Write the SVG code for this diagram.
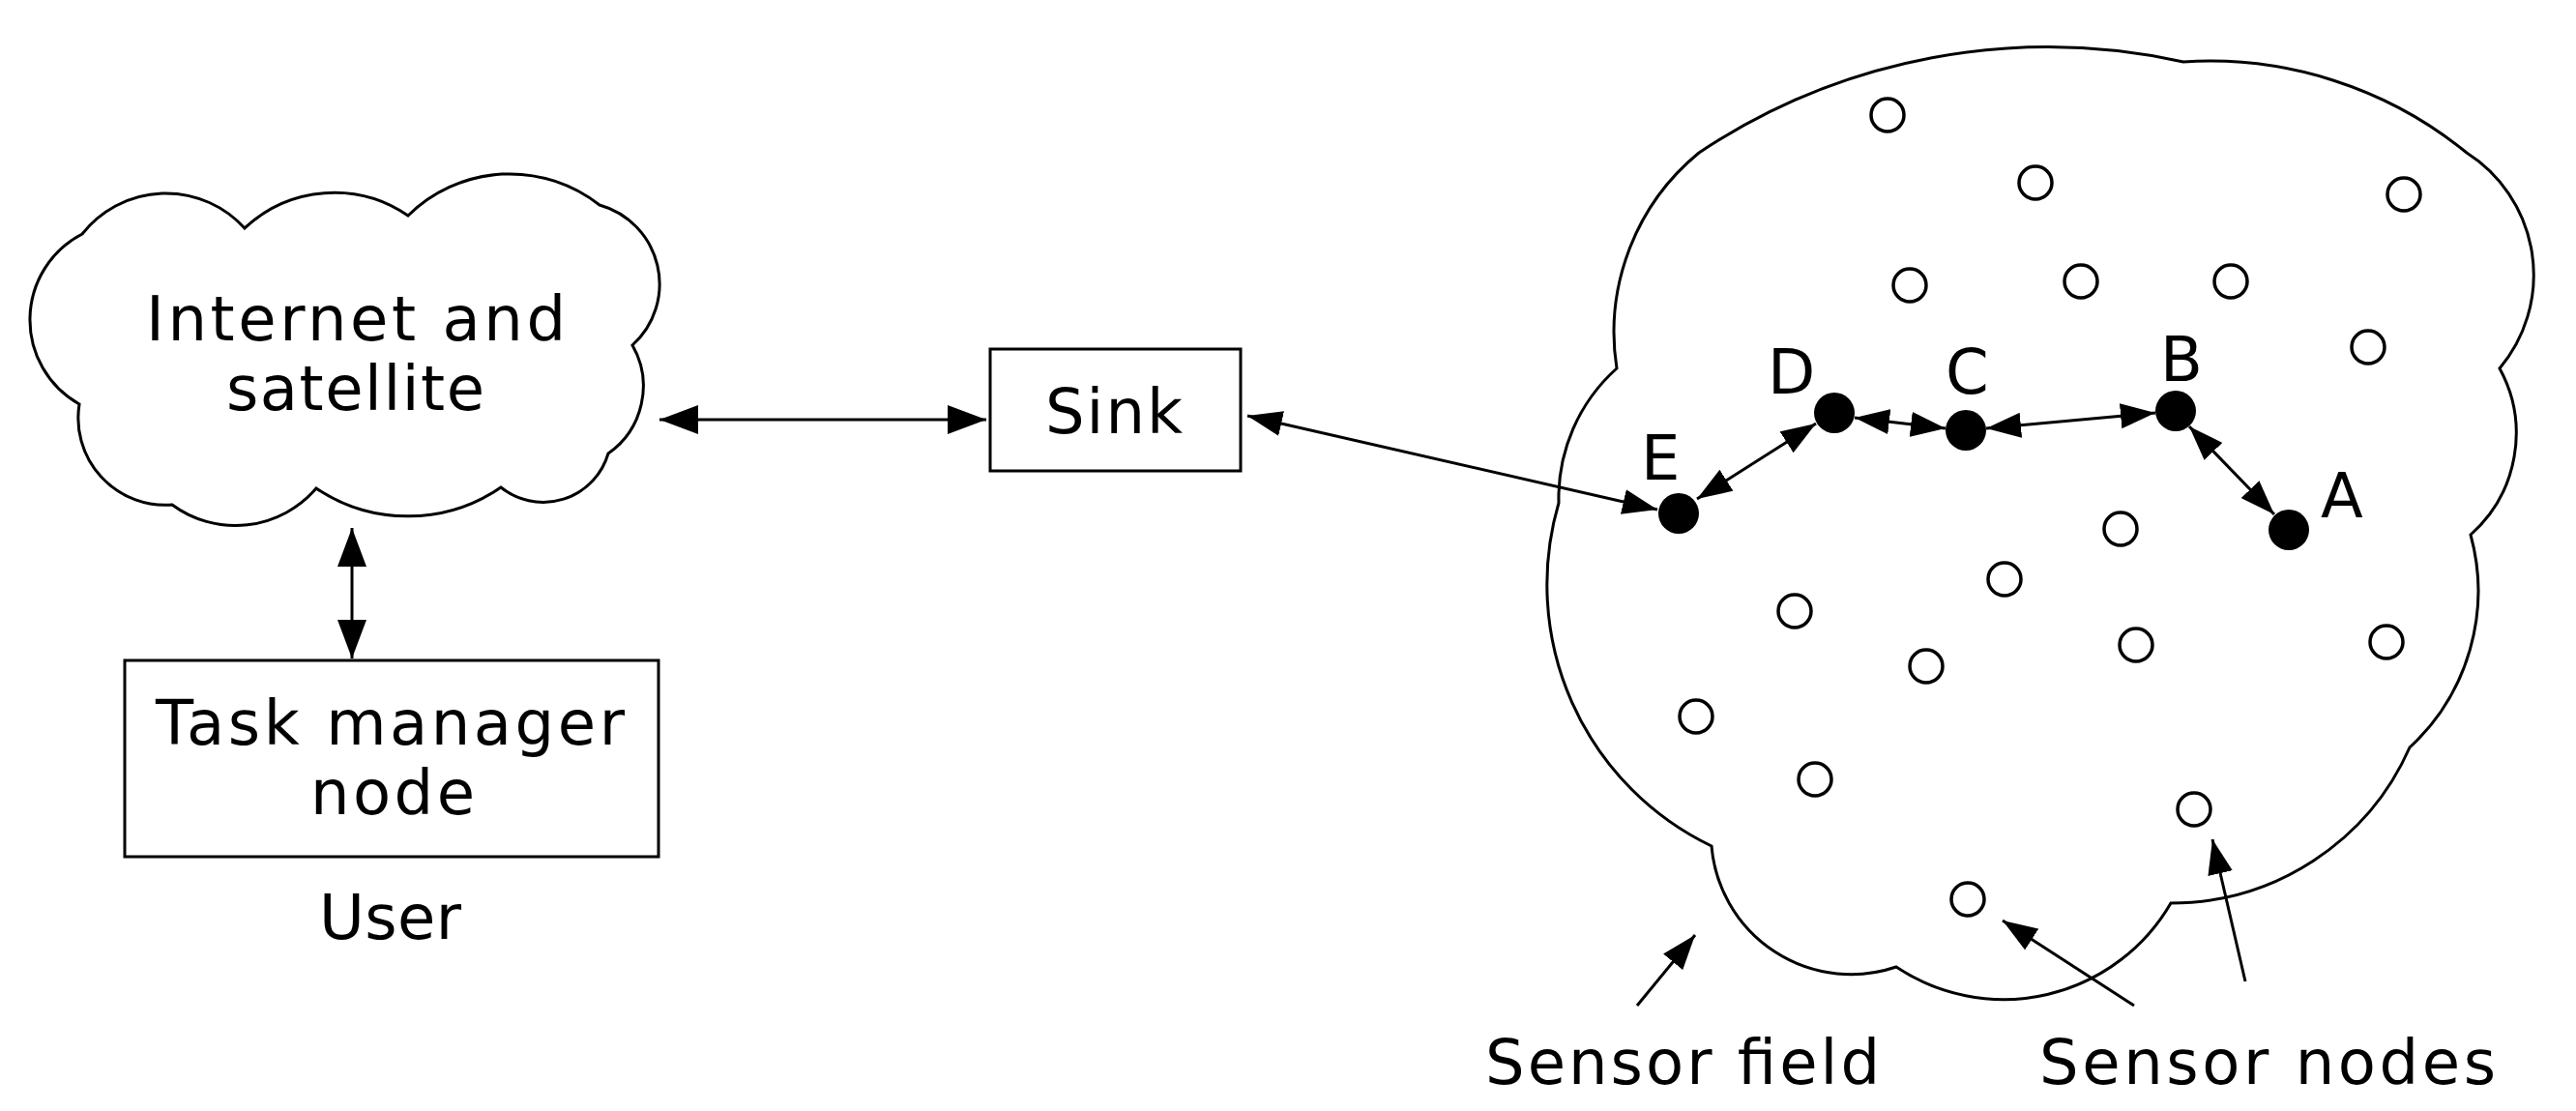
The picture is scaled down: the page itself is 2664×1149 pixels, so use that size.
<svg xmlns="http://www.w3.org/2000/svg" width="2664" height="1149" viewBox="0 0 2664 1149">
<defs>
<style>
.o{fill:none;stroke:#000;stroke-width:3}
.t{font-family:"DejaVu Sans",sans-serif;font-size:64px;fill:#000}
.l{stroke:#000;stroke-width:3;fill:none}
.s{fill:#fff;stroke:#000;stroke-width:3.5}
.f{fill:#000}
</style>
<marker id="a" markerUnits="userSpaceOnUse" markerWidth="44" markerHeight="30" refX="40" refY="15" orient="auto-start-reverse"><path d="M0,0 L40,15 L0,30 Z"/></marker>
<marker id="b" markerUnits="userSpaceOnUse" markerWidth="38" markerHeight="26" refX="36" refY="13" orient="auto-start-reverse"><path d="M0,0 L36,13 L0,26 Z"/></marker>
</defs>
<g id="internet">
<path class="o" d="M82,418 A100,100 0 0 1 85,242 A110,110 0 0 1 253,236 A135,135 0 0 1 422,223 A150,150 0 0 1 620,212 A85,85 0 0 1 654,357 A85,85 0 0 1 629,469 A70,70 0 0 1 518,504 A170,170 0 0 1 327,505 A110,110 0 0 1 178,522 A90,90 0 0 1 82,418 Z"/>
<text class="t" x="151" y="352" textLength="434">Internet and</text>
<text class="t" x="234" y="424" textLength="267">satellite</text>
</g>
<g id="sink">
<rect class="o" x="1024" y="361" width="259" height="126"/>
<text class="t" x="1081" y="448" textLength="142">Sink</text>
</g>
<g id="task">
<rect class="o" x="129" y="683" width="552" height="203"/>
<text class="t" x="161" y="770" textLength="485">Task manager</text>
<text class="t" x="321" y="842" textLength="170">node</text>
<text class="t" x="330" y="971" textLength="147">User</text>
</g>
<g id="field">
<path class="o" d="M1757,158 A650,650 0 0 1 2258,64 A420,420 0 0 1 2551,158 A150,150 0 0 1 2585,381 A140,140 0 0 1 2555,553 A220,220 0 0 1 2492,773 A270,270 0 0 1 2245,934 A200,200 0 0 1 1961,1000 A145,145 0 0 1 1770,875 A300,300 0 0 1 1612,520 A180,180 0 0 1 1672,381 A240,240 0 0 1 1757,158 Z"/>
<text class="t" x="1536" y="1121" textLength="408">Sensor field</text>
<text class="t" x="2109" y="1121" textLength="472">Sensor nodes</text>
</g>
<g id="sensors">
<circle class="s" cx="1952" cy="119" r="17"/><circle class="s" cx="2105" cy="189" r="17"/>
<circle class="s" cx="2486" cy="201" r="17"/><circle class="s" cx="1975" cy="295" r="17"/>
<circle class="s" cx="2152" cy="291" r="17"/><circle class="s" cx="2307" cy="291" r="17"/>
<circle class="s" cx="2449" cy="359" r="17"/><circle class="s" cx="2193" cy="547" r="17"/>
<circle class="s" cx="2073" cy="599" r="17"/><circle class="s" cx="1856" cy="632" r="17"/>
<circle class="s" cx="1992" cy="689" r="17"/><circle class="s" cx="2209" cy="667" r="17"/>
<circle class="s" cx="2468" cy="664" r="17"/><circle class="s" cx="1754" cy="741" r="17"/>
<circle class="s" cx="1877" cy="806" r="17"/><circle class="s" cx="2269" cy="837" r="17"/>
<circle class="s" cx="2035" cy="930" r="17"/>
</g>
<g id="node-A"><circle class="f" cx="2367" cy="548" r="21"/><text class="t" x="2400" y="535">A</text></g>
<g id="node-B"><circle class="f" cx="2250" cy="425" r="21"/><text class="t" x="2234" y="394">B</text></g>
<g id="node-C"><circle class="f" cx="2033" cy="445" r="21"/><text class="t" x="2012" y="407">C</text></g>
<g id="node-D"><circle class="f" cx="1897" cy="427" r="21"/><text class="t" x="1828" y="407">D</text></g>
<g id="node-E"><circle class="f" cx="1736" cy="531" r="21"/><text class="t" x="1697" y="496">E</text></g>
<g id="connectors">
<line class="l" x1="682" y1="434" x2="1020" y2="434" marker-start="url(#a)" marker-end="url(#a)"/>
<line class="l" x1="364" y1="546" x2="364" y2="681" marker-start="url(#a)" marker-end="url(#a)"/>
<line class="l" x1="1290" y1="430" x2="1714" y2="527" marker-start="url(#b)" marker-end="url(#b)"/>
<line class="l" x1="1755" y1="516" x2="1878" y2="438" marker-start="url(#b)" marker-end="url(#b)"/>
<line class="l" x1="1918" y1="432" x2="2012" y2="443" marker-start="url(#b)" marker-end="url(#b)"/>
<line class="l" x1="2054" y1="443" x2="2229" y2="427" marker-start="url(#b)" marker-end="url(#b)"/>
<line class="l" x1="2264" y1="441" x2="2352" y2="532" marker-start="url(#b)" marker-end="url(#b)"/>
<line class="l" x1="1693" y1="1040" x2="1753" y2="967" marker-end="url(#b)"/>
<line class="l" x1="2207" y1="1040" x2="2071" y2="952" marker-end="url(#b)"/>
<line class="l" x1="2322" y1="1015" x2="2288" y2="868" marker-end="url(#b)"/>
</g>
</svg>
